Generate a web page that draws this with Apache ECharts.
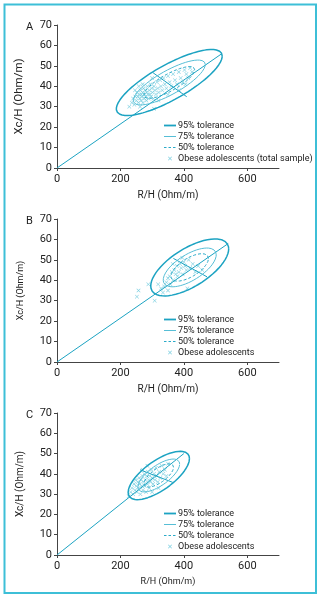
<!DOCTYPE html>
<html>
<head>
<meta charset="utf-8">
<script src="https://cdn.jsdelivr.net/npm/echarts@6/dist/echarts.min.js"></script>
<style>
  html, body { margin: 0; padding: 0; background: #fff; }
  #chart { width: 320px; height: 595px; }
</style>
</head>
<body>
<div id="chart"></div>
<script>
// panels and tolerance levels
const panelLabels = ['A', 'B', 'C'];
const levelNames = ['95% tolerance', '75% tolerance', '50% tolerance'];
const levelRadius = [2.4477, 1.6651, 1.1774]; // sqrt of chi-square (2 df)
const sampleNames = ['Obese adolescents (total sample)', 'Obese adolescents', 'Obese adolescents'];

// ellipse parameters (R/H, Xc/H)
const meanR = [354, 418.5, 321];
const meanXc = [41.85, 46.3, 39.2];
const sdR = [68.2, 50.2, 39.5];
const sdXc = [6.6, 5.7, 4.87];
const corr = [0.8, 0.65, 0.7];

// the long axis from origin and the short cross line
const axisEnd = [[520, 56], [540, 58], [400, 50]];
const crossLines = [
  [[303, 46.6], [409, 34.9]],
  [[367, 50.7], [473, 41.7]],
  [[262, 42], [365, 35.8]]
];

// sample points
const pointsA = [[228,30],[236,32],[240,34],[244,31],[247,35],[250,33],[252,37],[255,35],[257,32],[259,36],
  [261,34],[263,38],[265,33],[266,36],[268,35],[270,37],[271,32],[273,39],[275,34],[276,36],[278,38],[280,35],
  [282,33],[283,37],[285,40],[287,36],[289,34],[291,38],[293,36],[295,41],[297,35],[299,39],[301,37],[304,34],
  [306,40],[309,38],[312,36],[315,42],[318,39],[321,37],[325,43],[328,40],[332,38],[336,44],[340,41],[345,39],
  [350,45],[355,42],[360,40],[366,46],[372,43],[378,41],[384,47],[390,44],[396,42],[402,48],[408,46],[414,44],
  [420,49],[426,47],[306,29],[262,30],[246,38],[258,40],[320,33],[350,36],[385,38],[405,41],[270,41],[300,44]];
const pointsB = [[252,32],[257,35],[288,38],[308,30],[319,38],[328,36],[334,34],[338,37],[345,39],[350,41],
  [355,42],[358,38],[362,44],[366,40],[370,45],[374,43],[378,47],[380,42],[384,44],[388,48],[392,46],[396,43],
  [400,49],[404,47],[408,45],[411,36],[415,50],[420,46],[428,48],[436,44],[445,47],[458,45],[350,35],[365,48],[395,51]];
const pointsC = [[226,29],[232,31],[236,33],[240,30],[243,35],[246,32],[248,37],[250,34],[252,31],[255,36],
  [257,33],[259,38],[261,35],[263,30],[265,37],[267,34],[269,39],[271,32],[273,36],[275,40],[277,34],[279,37],
  [281,31],[283,39],[285,35],[287,41],[289,37],[291,33],[293,39],[295,36],[298,42],[300,38],[303,35],[306,40],
  [309,37],[312,43],[315,39],[318,36],[322,41],[326,38],[330,44],[335,40],[340,42],[345,39],[350,45],[300,31],
  [320,33],[270,42],[285,44]];
const samplePoints = [pointsA, pointsB, pointsC];

const xLabels = [0, 200, 400, 600];

const gridTop = [25, 219, 413];
const gridHeight = [143, 143, 142];
const yNameSize = [11.5, 9, 10];
const xNameSize = [10, 10, 9];

const teal = '#1ca3c2';
const pointColor = '#5fc4da';
const levelStyles = [
  { color: teal, width: 1.5 },
  { color: '#56bed6', width: 1 },
  { color: '#2aaac8', width: 1, type: [3, 2] }
];
// legend icons drawn in a 12x9 box (two empty points fix the box)
const box = 'path://M0,0L0,0M12,9L12,9';
const legendIcons = [
  box + 'M0,3.6H12V5.4H0Z',
  box + 'M0,4H12V5H0Z',
  box + 'M0,4H2.5V5H0ZM4.5,4H7V5H4.5ZM9,4H11.5V5H9Z'
];
const cross = 'path://M0,1L1,0L5,4L9,0L10,1L6,5L10,9L9,10L5,6L1,10L0,9L4,5Z';
const legendCross = box + 'M4,3L4.5,2.5L6,4L7.5,2.5L8,3L6.5,4.5L8,6L7.5,6.5L6,5L4.5,6.5L4,6L5.5,4.5Z';

function ellipse(i, k) {
  const pts = [];
  const s = Math.sqrt(1 - corr[i] * corr[i]);
  for (let t = 0; t <= 360; t += 3) {
    const a = t * Math.PI / 180;
    pts.push([
      meanR[i] + k * sdR[i] * Math.cos(a),
      meanXc[i] + k * sdXc[i] * (corr[i] * Math.cos(a) + s * Math.sin(a))
    ]);
  }
  return pts;
}

const axisText = { color: '#222', fontSize: 11, fontFamily: 'Roboto' };
const grid = [], xAxis = [], yAxis = [], series = [], legend = [], title = [];

panelLabels.forEach(function (lab, i) {
  grid.push({ left: 57, top: gridTop[i], width: 222, height: gridHeight[i] });
  title.push({ text: lab, left: 21, top: gridTop[i] - 8,
    textStyle: { fontSize: 11, fontWeight: 'normal', color: '#222', fontFamily: 'Roboto' } });
  xAxis.push({
    gridIndex: i, type: 'value', min: 0, max: 700,
    name: 'R/H (Ohm/m)', nameLocation: 'middle', nameGap: 22,
    nameTextStyle: { fontSize: xNameSize[i], color: '#222', fontFamily: 'Roboto' },
    axisLine: { lineStyle: { color: '#444' } },
    axisTick: { length: 3, customValues: xLabels, lineStyle: { color: '#444' } },
    axisLabel: Object.assign({ customValues: xLabels, margin: 6 }, axisText),
    splitLine: { show: false }
  });
  yAxis.push({
    gridIndex: i, type: 'value', min: 0, max: 70, interval: 10,
    name: 'Xc/H (Ohm/m)', nameLocation: 'middle', nameGap: 32,
    nameTextStyle: { fontSize: yNameSize[i], color: '#222', fontFamily: 'Roboto' },
    axisLine: { show: true, lineStyle: { color: '#444' } },
    axisTick: { show: true, length: 3, lineStyle: { color: '#444' } },
    axisLabel: Object.assign({ margin: 5 }, axisText),
    splitLine: { show: false }
  });

  series.push({
    type: 'line', xAxisIndex: i, yAxisIndex: i, symbol: 'none', silent: true,
    lineStyle: { color: teal, width: 1 }, data: [[0, 0], axisEnd[i]]
  });
  series.push({
    type: 'line', xAxisIndex: i, yAxisIndex: i, symbol: 'none', silent: true,
    lineStyle: { color: teal, width: 1 }, data: crossLines[i]
  });
  levelNames.forEach(function (nm, j) {
    series.push({
      name: nm, type: 'line', xAxisIndex: i, yAxisIndex: i, symbol: 'none',
      color: levelStyles[j].color, lineStyle: levelStyles[j], data: ellipse(i, levelRadius[j])
    });
  });
  series.push({
    name: sampleNames[i], type: 'scatter', xAxisIndex: i, yAxisIndex: i,
    symbol: cross, symbolSize: 4, itemStyle: { color: pointColor }, data: samplePoints[i]
  });

  legend.push({
    orient: 'vertical', left: 164, top: gridTop[i] + 96, padding: 0,
    itemWidth: 12, itemHeight: 9, itemGap: 2,
    textStyle: { fontSize: 9, color: '#222', fontFamily: 'Roboto', padding: [0, 0, 0, -3] },
    data: levelNames.map(function (nm, j) {
      return { name: nm, icon: legendIcons[j],
        itemStyle: { color: levelStyles[j].color, borderWidth: 0 } };
    }).concat([{ name: sampleNames[i], icon: legendCross, itemStyle: { color: pointColor, borderWidth: 0 } }]),
    selectedMode: false
  });
});

const chart = echarts.init(document.getElementById('chart'));
chart.setOption({
  animation: false,
  title: title,
  grid: grid,
  xAxis: xAxis,
  yAxis: yAxis,
  legend: legend,
  series: series,
  graphic: [{
    type: 'rect', silent: true,
    shape: { x: 4.5, y: 4.5, width: 311.5, height: 588.5 },
    style: { fill: 'none', stroke: '#3dbfd7', lineWidth: 2 }
  }]
});
</script>
</body>
</html>
